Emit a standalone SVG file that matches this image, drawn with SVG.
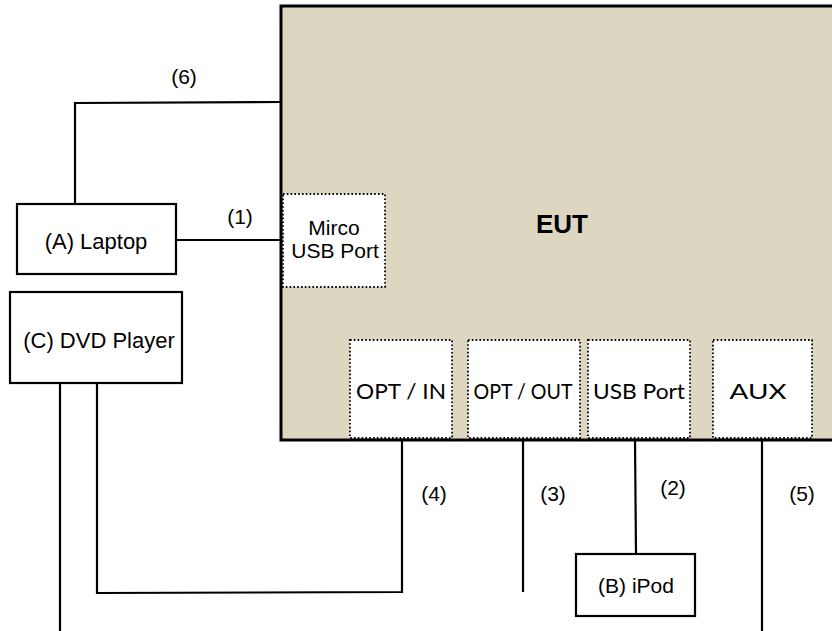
<svg xmlns="http://www.w3.org/2000/svg" width="832" height="631" viewBox="0 0 832 631">
<style>
.box{fill:#fff;stroke:#000;stroke-width:2.2}
.port{fill:#fff;stroke:#000;stroke-width:1.8;stroke-dasharray:1.6 2.2}
.ln{fill:none;stroke:#000;stroke-width:2.2}
.t{font-family:"Liberation Sans",Arial,sans-serif;font-size:21px;fill:#000;text-anchor:middle}
.p{font-family:Lato,"Open Sans",sans-serif;font-size:22px;fill:#000;text-anchor:middle}
</style>
<rect width="832" height="631" fill="#fff"/>
<g id="eut">
<rect x="281" y="6" width="600" height="434" fill="#ddd7c2" stroke="#000" stroke-width="3"/>
<text class="t" x="562" y="233" style="font-weight:bold;font-size:26px">EUT</text>
</g>
<g id="micro-usb">
<rect class="port" x="283" y="194" width="102" height="93"/>
<text class="t" x="334" y="235">Mirco</text>
<text class="t" x="335" y="258">USB Port</text>
</g>
<g id="opt-in">
<rect class="port" x="350" y="340" width="102" height="98"/>
<text class="p" x="401" y="399" textLength="90" lengthAdjust="spacingAndGlyphs">OPT / IN</text>
</g>
<g id="opt-out">
<rect class="port" x="468" y="340" width="112" height="98"/>
<text class="p" x="523" y="399" textLength="99" lengthAdjust="spacingAndGlyphs">OPT / OUT</text>
</g>
<g id="usb-port">
<rect class="port" x="588" y="340" width="102" height="98"/>
<text class="p" x="639" y="399" textLength="92" lengthAdjust="spacingAndGlyphs">USB Port</text>
</g>
<g id="aux">
<rect class="port" x="713" y="340" width="99" height="98"/>
<text class="p" x="758" y="399" textLength="57" lengthAdjust="spacingAndGlyphs">AUX</text>
</g>
<g id="laptop">
<rect class="box" x="17" y="204" width="159" height="70"/>
<text class="t" x="96" y="249" style="font-size:22px">(A) Laptop</text>
</g>
<g id="dvd">
<rect class="box" x="10" y="292" width="172" height="91"/>
<text class="t" x="99" y="348" style="font-size:22px">(C) DVD Player</text>
</g>
<g id="ipod">
<rect class="box" x="576" y="554" width="119" height="62"/>
<text class="t" x="636" y="593">(B) iPod</text>
</g>
<g id="connectors">
<polyline class="ln" points="281,102 75,103 75,204"/>
<line class="ln" x1="176" y1="240" x2="282" y2="240"/>
<line class="ln" x1="60" y1="383" x2="60" y2="631"/>
<polyline class="ln" points="97,383 97,593 402,592 402,440"/>
<line class="ln" x1="523" y1="440" x2="523" y2="592"/>
<line class="ln" x1="635" y1="440" x2="636" y2="554"/>
<line class="ln" x1="762" y1="440" x2="762" y2="631"/>
<text class="t" x="184" y="84">(6)</text>
<text class="t" x="240" y="224">(1)</text>
<text class="t" x="434" y="501">(4)</text>
<text class="t" x="553" y="501">(3)</text>
<text class="t" x="673" y="495">(2)</text>
<text class="t" x="802" y="501">(5)</text>
</g>
</svg>
